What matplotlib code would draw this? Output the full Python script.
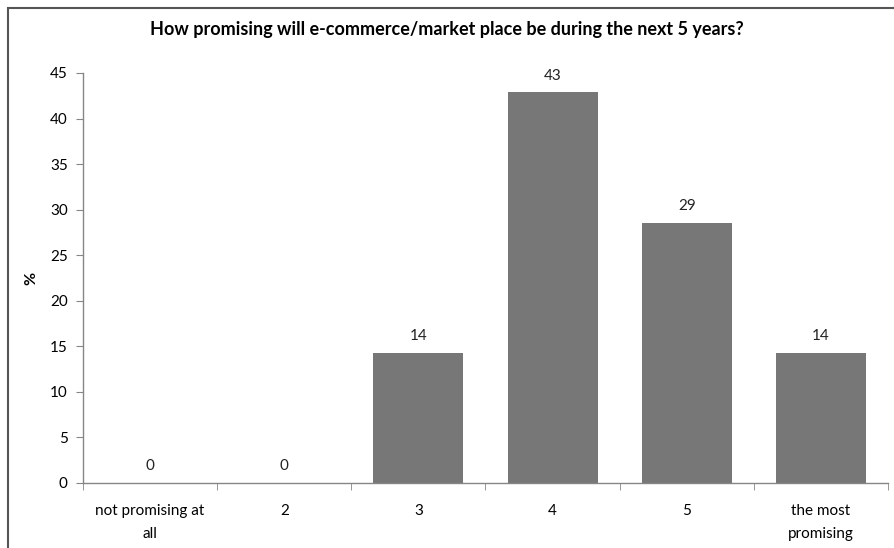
import matplotlib.pyplot as plt
from matplotlib.patches import Rectangle

# survey answers, share of respondents in %
categories = ['not promising at\nall', '2', '3', '4', '5', 'the most\npromising']
shares = [0, 0, 14.29, 42.86, 28.57, 14.29]
y_ticks = [0, 5, 10, 15, 20, 25, 30, 35, 40, 45]

plt.rcParams['font.family'] = ['Lato', 'DejaVu Sans']

fig = plt.figure(figsize=(8.94, 5.48), dpi=100)
ax = fig.add_axes([83 / 894, 1 - 483 / 548, 805 / 894, 410 / 548])

x = list(range(len(categories)))
bars = ax.bar(x, shares, width=0.67, color='#777777', zorder=2)
for rect, v in zip(bars, shares):
    ax.annotate('%.0f' % v, (rect.get_x() + rect.get_width() / 2, v),
                xytext=(0, 7), textcoords='offset points',
                ha='center', va='bottom', fontsize=11, color='#222222')

ax.set_xlim(-0.5, len(categories) - 0.5)
ax.set_ylim(0, 45)
ax.set_yticks(y_ticks)
ax.set_xticks(x)
ax.set_xticklabels(categories, fontsize=11, linespacing=1.8)
ax.set_xticks([i - 0.5 for i in range(len(categories) + 1)], minor=True)
ax.tick_params(axis='x', which='major', length=0, pad=15)
ax.tick_params(axis='x', which='minor', length=5, color='#868686', direction='out')
ax.tick_params(axis='y', length=5, color='#868686', labelsize=11, pad=6)

for side in ['top', 'right']:
    ax.spines[side].set_visible(False)
for side in ['left', 'bottom']:
    ax.spines[side].set_color('#868686')
    ax.spines[side].set_linewidth(1)

ax.set_ylabel('%', fontsize=11.5, fontweight='bold', labelpad=8)
fig.text(447 / 894, 1 - 30 / 548,
         'How promising will e-commerce/market place be during the next 5 years?',
         ha='center', va='center', fontsize=13, fontweight='bold')

# chart frame
fig.patches.append(Rectangle((8 / 894, -0.1), 1.1, 1 - 8 / 548 + 0.1,
                             transform=fig.transFigure, fill=False,
                             edgecolor='#555555', linewidth=1.5))

fig.savefig('out.png', dpi=100)
